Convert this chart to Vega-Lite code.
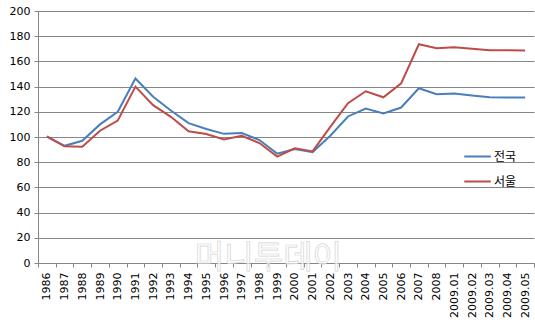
{
  "$schema": "https://vega.github.io/schema/vega-lite/v6.json",
  "width": 496,
  "height": 252,
  "autosize": "none",
  "padding": {"left": 38, "top": 11, "right": 1, "bottom": 62},
  "background": "white",
  "config": {
    "view": {"stroke": null},
    "font": "DejaVu Sans",
    "axisY": {
      "values": [0, 20, 40, 60, 80, 100, 120, 140, 160, 180, 200],
      "tickCount": 10,
      "labelOverlap": false,
      "labelFontSize": 11,
      "labelColor": "#000000",
      "labelPadding": 4,
      "tickSize": 4,
      "tickColor": "#868686",
      "domainColor": "#868686",
      "gridColor": "#868686",
      "gridWidth": 1,
      "title": null
    }
  },
  "datasets": {
    "series": [
      {"period": "1986", "region": "전국", "value": 100.3},
      {"period": "1987", "region": "전국", "value": 93},
      {"period": "1988", "region": "전국", "value": 97},
      {"period": "1989", "region": "전국", "value": 110},
      {"period": "1990", "region": "전국", "value": 120},
      {"period": "1991", "region": "전국", "value": 146.4},
      {"period": "1992", "region": "전국", "value": 132},
      {"period": "1993", "region": "전국", "value": 121},
      {"period": "1994", "region": "전국", "value": 111},
      {"period": "1995", "region": "전국", "value": 106.4},
      {"period": "1996", "region": "전국", "value": 102.5},
      {"period": "1997", "region": "전국", "value": 103.2},
      {"period": "1998", "region": "전국", "value": 97.6},
      {"period": "1999", "region": "전국", "value": 86.8},
      {"period": "2000", "region": "전국", "value": 90.5},
      {"period": "2001", "region": "전국", "value": 88},
      {"period": "2002", "region": "전국", "value": 101},
      {"period": "2003", "region": "전국", "value": 116.3},
      {"period": "2004", "region": "전국", "value": 122.6},
      {"period": "2005", "region": "전국", "value": 118.7},
      {"period": "2006", "region": "전국", "value": 123.4},
      {"period": "2007", "region": "전국", "value": 138.7},
      {"period": "2008", "region": "전국", "value": 133.9},
      {"period": "2009.01", "region": "전국", "value": 134.6},
      {"period": "2009.02", "region": "전국", "value": 133},
      {"period": "2009.03", "region": "전국", "value": 131.5},
      {"period": "2009.04", "region": "전국", "value": 131.3},
      {"period": "2009.05", "region": "전국", "value": 131.3},
      {"period": "1986", "region": "서울", "value": 100.5},
      {"period": "1987", "region": "서울", "value": 92.6},
      {"period": "1988", "region": "서울", "value": 92.3},
      {"period": "1989", "region": "서울", "value": 105},
      {"period": "1990", "region": "서울", "value": 113},
      {"period": "1991", "region": "서울", "value": 140},
      {"period": "1992", "region": "서울", "value": 125.3},
      {"period": "1993", "region": "서울", "value": 116},
      {"period": "1994", "region": "서울", "value": 104.5},
      {"period": "1995", "region": "서울", "value": 102.4},
      {"period": "1996", "region": "서울", "value": 98},
      {"period": "1997", "region": "서울", "value": 101},
      {"period": "1998", "region": "서울", "value": 95.2},
      {"period": "1999", "region": "서울", "value": 84.4},
      {"period": "2000", "region": "서울", "value": 91},
      {"period": "2001", "region": "서울", "value": 88.6},
      {"period": "2002", "region": "서울", "value": 108},
      {"period": "2003", "region": "서울", "value": 126.8},
      {"period": "2004", "region": "서울", "value": 136.3},
      {"period": "2005", "region": "서울", "value": 131.5},
      {"period": "2006", "region": "서울", "value": 142.6},
      {"period": "2007", "region": "서울", "value": 173.6},
      {"period": "2008", "region": "서울", "value": 170.5},
      {"period": "2009.01", "region": "서울", "value": 171.3},
      {"period": "2009.02", "region": "서울", "value": 170},
      {"period": "2009.03", "region": "서울", "value": 168.9},
      {"period": "2009.04", "region": "서울", "value": 168.9},
      {"period": "2009.05", "region": "서울", "value": 168.7}
    ],
    "watermark": [
      {"label": "머니투데이", "pos": "1998", "y": 4}
    ]
  },
  "layer": [
    {
      "data": {"name": "watermark"},
      "mark": {
        "type": "text",
        "fontSize": 32,
        "font": "Noto Sans CJK KR",
        "fill": "#ffffff",
        "fillOpacity": 0.6,
        "stroke": "#d4d4d4",
        "strokeWidth": 0.7,
        "dx": 9,
        "baseline": "middle",
        "align": "center"
      },
      "encoding": {
        "x": {"field": "pos", "type": "ordinal"},
        "y": {"field": "y", "type": "quantitative"},
        "text": {"field": "label"}
      }
    },
    {
      "data": {"name": "series"},
      "mark": {"type": "line", "strokeWidth": 2},
      "encoding": {
        "x": {
          "field": "period",
          "type": "ordinal",
          "sort": null,
          "scale": {"type": "band", "paddingInner": 0, "paddingOuter": 0},
          "axis": {
            "title": null,
            "labelAngle": -90,
            "labelAlign": "right",
            "labelBaseline": "middle",
            "labelFontSize": 11,
            "labelColor": "#000000",
            "labelPadding": 5,
            "labelOverlap": false,
            "tickBand": "extent",
            "tickSize": 4,
            "tickColor": "#868686",
            "domainColor": "#868686",
            "grid": false
          }
        },
        "y": {
          "field": "value",
          "type": "quantitative",
          "scale": {"domain": [0, 200], "nice": false, "zero": true}
        },
        "color": {
          "field": "region",
          "type": "nominal",
          "sort": ["전국", "서울"],
          "scale": {"domain": ["전국", "서울"], "range": ["#4a7ebb", "#be4b48"]},
          "legend": {
            "title": null,
            "orient": "none",
            "legendX": 425,
            "legendY": 131,
            "symbolType": "stroke",
            "symbolStrokeWidth": 2,
            "symbolSize": 700,
            "labelFontSize": 12,
            "labelFont": "Noto Sans CJK KR",
            "labelColor": "#000000",
            "rowPadding": 4,
            "labelOffset": 2
          }
        }
      }
    }
  ]
}
